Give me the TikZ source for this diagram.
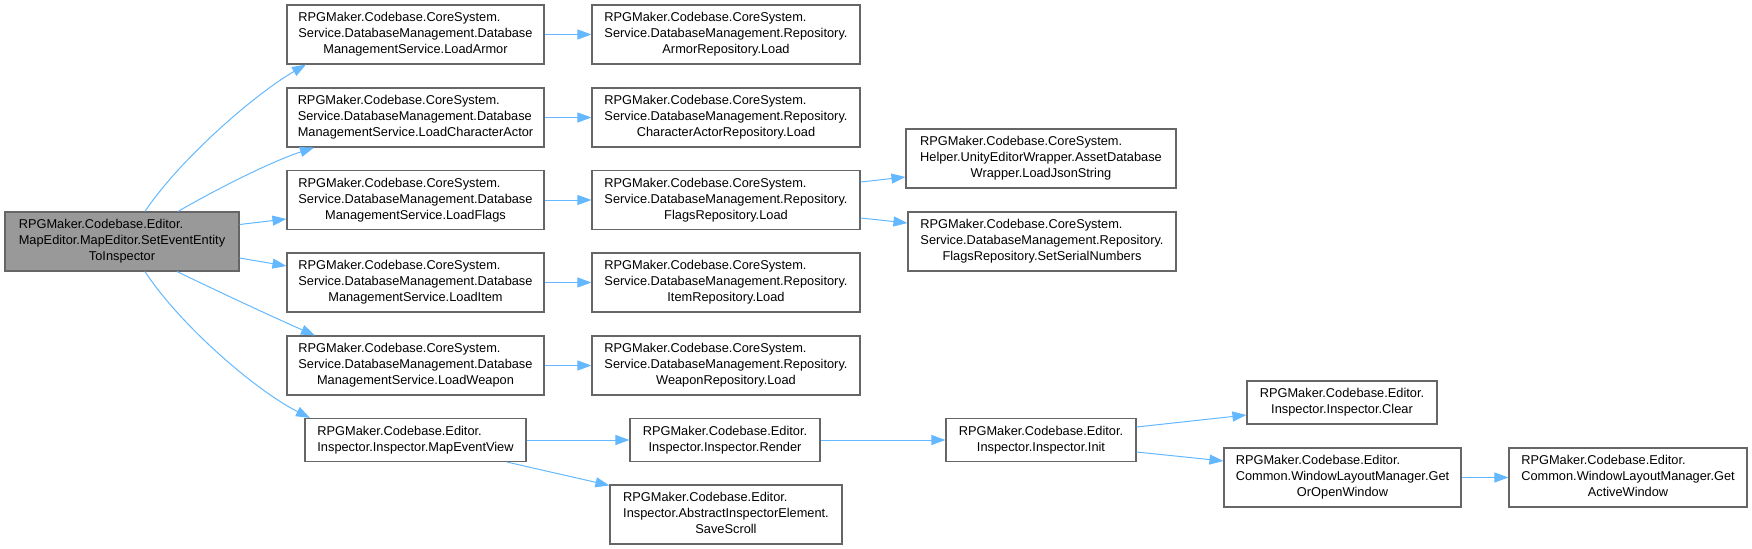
\documentclass[tikz,border=0pt]{standalone}
\usepackage{fontspec}
\setmainfont{Liberation Sans}
\usetikzlibrary{arrows.meta,calc}
\definecolor{edgeblue}{HTML}{63B8FF}
\definecolor{boxline}{HTML}{666666}
\definecolor{rootfill}{HTML}{999999}
\newcommand\twoln[2]{\begin{tabular}{@{}l@{}}#1\\\multicolumn{1}{@{}c@{}}{#2}\end{tabular}}
\newcommand\threeln[3]{\begin{tabular}{@{}l@{}}#1\\#2\\\multicolumn{1}{@{}c@{}}{#3}\end{tabular}}
\begin{document}
\begin{tikzpicture}[x=0.75pt,y=-0.75pt,
  box/.style={draw=boxline,line width=0.85pt,fill=white,rectangle,inner sep=0pt,
    font=\fontsize{9.6pt}{12pt}\selectfont},
  bw/.style={minimum width=#1*0.75pt},
  hthree/.style={minimum height=44.25pt},
  htwo/.style={minimum height=32.25pt},
  edge/.style={draw=edgeblue,line width=0.75pt,-{Triangle[length=10.5pt,width=7.5pt]}}]
\useasboundingbox (0,0) rectangle (1752,549);
% nodes
\node[box,fill=rootfill,bw=234,hthree] (root) at (122,241.5)
  {\threeln{RPGMaker.Codebase.Editor.}{MapEditor.MapEditor.SetEventEntity}{ToInspector}};
\node[box,bw=257,hthree] (armor) at (415.5,34.5)
  {\threeln{RPGMaker.Codebase.CoreSystem.}{Service.DatabaseManagement.Database}{ManagementService.LoadArmor}};
\node[box,bw=257,hthree] (actor) at (415.5,117.5)
  {\threeln{RPGMaker.Codebase.CoreSystem.}{Service.DatabaseManagement.Database}{ManagementService.LoadCharacterActor}};
\node[box,bw=257,hthree] (flags) at (415.5,200)
  {\threeln{RPGMaker.Codebase.CoreSystem.}{Service.DatabaseManagement.Database}{ManagementService.LoadFlags}};
\node[box,bw=257,hthree] (item) at (415.5,282.5)
  {\threeln{RPGMaker.Codebase.CoreSystem.}{Service.DatabaseManagement.Database}{ManagementService.LoadItem}};
\node[box,bw=257,hthree] (weapon) at (415.5,365.5)
  {\threeln{RPGMaker.Codebase.CoreSystem.}{Service.DatabaseManagement.Database}{ManagementService.LoadWeapon}};
\node[box,bw=221,htwo] (mapev) at (415.5,440)
  {\twoln{RPGMaker.Codebase.Editor.}{Inspector.Inspector.MapEventView}};
\node[box,bw=268,hthree] (armorrepo) at (726,34.5)
  {\threeln{RPGMaker.Codebase.CoreSystem.}{Service.DatabaseManagement.Repository.}{ArmorRepository.Load}};
\node[box,bw=268,hthree] (actorrepo) at (726,117.5)
  {\threeln{RPGMaker.Codebase.CoreSystem.}{Service.DatabaseManagement.Repository.}{CharacterActorRepository.Load}};
\node[box,bw=268,hthree] (flagsrepo) at (726,200)
  {\threeln{RPGMaker.Codebase.CoreSystem.}{Service.DatabaseManagement.Repository.}{FlagsRepository.Load}};
\node[box,bw=268,hthree] (itemrepo) at (726,282.5)
  {\threeln{RPGMaker.Codebase.CoreSystem.}{Service.DatabaseManagement.Repository.}{ItemRepository.Load}};
\node[box,bw=268,hthree] (weaponrepo) at (726,365.5)
  {\threeln{RPGMaker.Codebase.CoreSystem.}{Service.DatabaseManagement.Repository.}{WeaponRepository.Load}};
\node[box,bw=190,htwo] (render) at (725,440)
  {\twoln{RPGMaker.Codebase.Editor.}{Inspector.Inspector.Render}};
\node[box,bw=232,hthree] (savescroll) at (726,514.5)
  {\threeln{RPGMaker.Codebase.Editor.}{Inspector.AbstractInspectorElement.}{SaveScroll}};
\node[box,bw=270,hthree] (json) at (1041,158.5)
  {\threeln{RPGMaker.Codebase.CoreSystem.}{Helper.UnityEditorWrapper.AssetDatabase}{Wrapper.LoadJsonString}};
\node[box,bw=268,hthree] (serial) at (1042,241.5)
  {\threeln{RPGMaker.Codebase.CoreSystem.}{Service.DatabaseManagement.Repository.}{FlagsRepository.SetSerialNumbers}};
\node[box,bw=190,htwo] (init) at (1041,440)
  {\twoln{RPGMaker.Codebase.Editor.}{Inspector.Inspector.Init}};
\node[box,bw=190,htwo] (clear) at (1342,402.5)
  {\twoln{RPGMaker.Codebase.Editor.}{Inspector.Inspector.Clear}};
\node[box,bw=237,hthree] (getopen) at (1342.5,477.5)
  {\threeln{RPGMaker.Codebase.Editor.}{Common.WindowLayoutManager.Get}{OrOpenWindow}};
\node[box,bw=238,hthree] (getactive) at (1628,477.5)
  {\threeln{RPGMaker.Codebase.Editor.}{Common.WindowLayoutManager.Get}{ActiveWindow}};
% edges from root
\draw[edge] ($(root.north)+(23,0)$) .. controls (180,159) and (255,94) .. ($(armor.south)+(-109.5,0)$);
\draw[edge] ($(root.north)+(56,0)$) .. controls (215,190) and (270,162) .. ($(actor.south)+(-101.5,0)$);
\draw[edge] ($(root.east)+(0,-17)$) -- ($(flags.west)+(0,19)$);
\draw[edge] ($(root.east)+(0,16.5)$) -- ($(item.west)+(0,-16.5)$);
\draw[edge] ($(root.south)+(55,0)$) .. controls (215,290) and (275,318) .. ($(weapon.north)+(-100.5,0)$);
\draw[edge] ($(root.south)+(23,0)$) .. controls (180,325) and (255,390) .. ($(mapev.north)+(-105.5,0)$);
% service -> repository
\draw[edge] (armor) -- (armorrepo);
\draw[edge] (actor) -- (actorrepo);
\draw[edge] (flags) -- (flagsrepo);
\draw[edge] (item) -- (itemrepo);
\draw[edge] (weapon) -- (weaponrepo);
\draw[edge] ($(flagsrepo.east)+(0,-18)$) -- ($(json.west)+(0,18.5)$);
\draw[edge] ($(flagsrepo.east)+(0,18)$) -- ($(serial.west)+(0,-18.5)$);
% inspector chain
\draw[edge] (mapev) -- (render);
\draw[edge] ($(mapev.south)+(91.5,0)$) -- ($(savescroll.north west)+(0,1)$);
\draw[edge] (render) -- (init);
\draw[edge] ($(init.east)+(0,-13)$) -- ($(clear.west)+(0,12.5)$);
\draw[edge] ($(init.east)+(0,12)$) -- ($(getopen.west)+(0,-16.5)$);
\draw[edge] (getopen) -- (getactive);
\end{tikzpicture}
\end{document}
